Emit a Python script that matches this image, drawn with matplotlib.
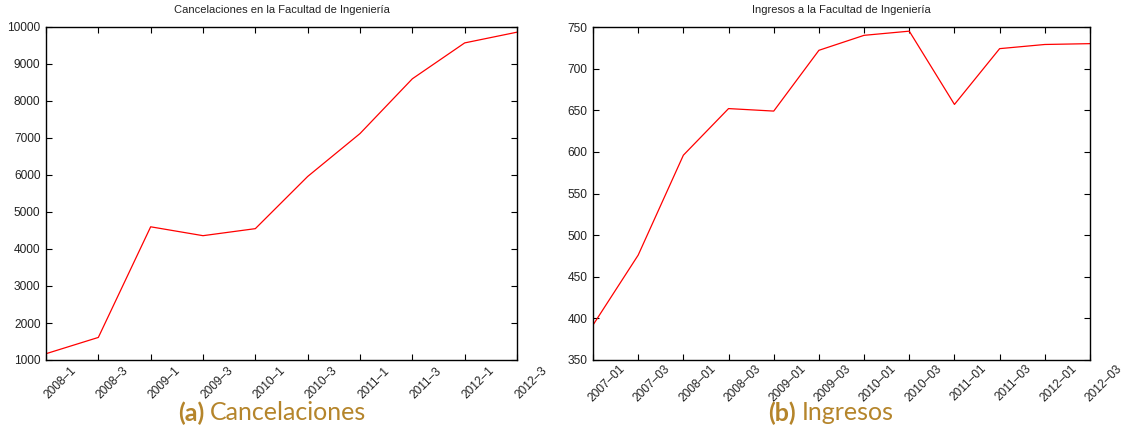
import matplotlib
matplotlib.use('Agg')
import matplotlib.pyplot as plt
from matplotlib.transforms import ScaledTranslation

# Cancelaciones por semestre
canc_labels = ['2008–1', '2008–3', '2009–1', '2009–3', '2010–1',
               '2010–3', '2011–1', '2011–3', '2012–1', '2012–3']
canc_values = [1170, 1610, 4600, 4360, 4550, 5960, 7120, 8600, 9570, 9860]

# Ingresos por semestre
ing_labels = ['2007–01', '2007–03', '2008–01', '2008–03', '2009–01', '2009–03',
              '2010–01', '2010–03', '2011–01', '2011–03', '2012–01', '2012–03']
ing_values = [392, 476, 596, 652, 649, 722, 740, 745, 657, 724, 729, 730]

font_size = 8.6
text_color = '#222222'
caption_color = '#b5852b'

plt.rcParams['font.family'] = ['Liberation Sans', 'DejaVu Sans']

fig = plt.figure(figsize=(11.27, 4.29), dpi=100)
ax1 = fig.add_axes([46 / 1127, 1 - 360 / 429, 471 / 1127, 333 / 429])
ax2 = fig.add_axes([593 / 1127, 1 - 360 / 429, 497 / 1127, 333 / 429])


def style_axis(ax, labels, values, title, ylim, yticks):
    x = range(len(labels))
    ax.plot(x, values, color='red', linewidth=0.9)
    ax.set_xlim(0, len(labels) - 1)
    ax.set_ylim(*ylim)
    ax.set_yticks(yticks)
    ax.set_xticks(list(x))
    ax.set_xticklabels([])
    # etiquetas rotadas, desplazadas a la derecha del tick
    offset = ScaledTranslation(14 / 100, -23 / 100, fig.dpi_scale_trans)
    for i, lab in enumerate(labels):
        ax.text(i, 0, lab, rotation=45, ha='center', va='center',
                rotation_mode='anchor', fontsize=font_size, color=text_color,
                transform=ax.get_xaxis_transform() + offset, clip_on=False)
    ax.tick_params(axis='both', direction='in', length=4, width=0.8,
                   top=True, right=True, labelsize=font_size,
                   labelcolor=text_color, pad=3)
    ax.tick_params(axis='y', pad=4)
    for sp in ax.spines.values():
        sp.set_linewidth(1.0)
    ax.set_title(title, fontsize=8, pad=10, color=text_color)


style_axis(ax1, canc_labels, canc_values,
           'Cancelaciones en la Facultad de Ingeniería',
           (1000, 10000), range(1000, 10001, 1000))
style_axis(ax2, ing_labels, ing_values,
           'Ingresos a la Facultad de Ingeniería',
           (350, 750), range(350, 751, 50))

# Subtítulos bajo cada gráfica
cap_size = 18
cap_y = 1 - 413 / 429
for cx, tag, name in [(272, '(a)', 'Cancelaciones'), (831, '(b)', 'Ingresos')]:
    tb = fig.text(0, cap_y, tag, fontsize=cap_size, color=caption_color,
                  family='Lato', fontweight='bold', ha='left', va='center')
    tn = fig.text(0, cap_y, name, fontsize=cap_size, color=caption_color,
                  family='Lato', fontweight='normal', ha='left', va='center')
    fig.canvas.draw()
    wb = tb.get_window_extent().width
    wn = tn.get_window_extent().width
    gap = 6
    x0 = cx - (wb + gap + wn) / 2
    tb.set_x(x0 / 1127)
    tn.set_x((x0 + wb + gap) / 1127)

fig.savefig('out.png', dpi=100)
